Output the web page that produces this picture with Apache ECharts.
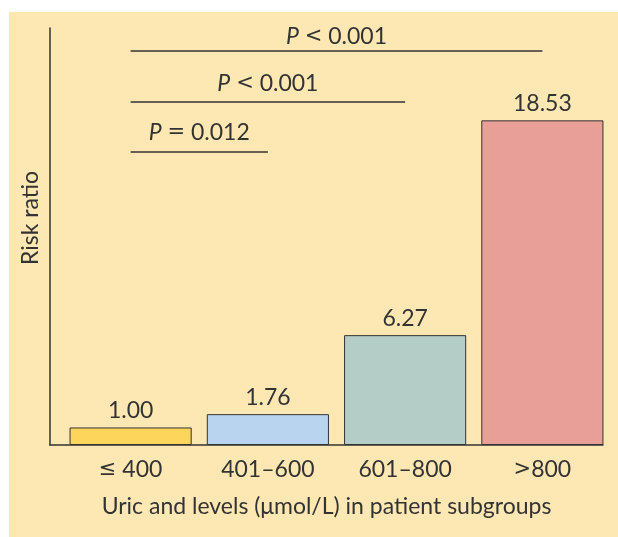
<!DOCTYPE html>
<html>
<head>
<meta charset="utf-8">
<script src="https://cdn.jsdelivr.net/npm/echarts@6/dist/echarts.min.js"></script>
<style>
html,body{margin:0;padding:0;background:#ffffff;}
#bg{position:absolute;left:9px;top:12px;width:609px;height:525px;background:#fde8b4;}
#chart{position:absolute;left:0;top:0;width:618px;height:537px;}
</style>
</head>
<body>
<div id="bg"></div>
<div id="chart"></div>
<script>
// ---- data ----
const categories = ['≤ 400', '401–600', '601–800', '>800'];
const riskRatios = [1.00, 1.76, 6.27, 18.53];
const barColors = ['#fdd55a', '#b9d4ee', '#b5cdc7', '#e89f98'];
const pLabels = ['P < 0.001', 'P < 0.001', 'P = 0.012'];
const bracketFrom = ['≤ 400', '≤ 400', '≤ 400'];
const bracketTo = ['>800', '601–800', '401–600'];
const xAxisTitle = 'Uric and levels (μmol/L) in patient subgroups';
const yAxisTitle = 'Risk ratio';

// ---- layout / style ----
const FONT = 'Lato';
const FS = 23;
const TXT = '#333333';
const yMax = 23.8;
const bracketLevels = [22.5, 19.6, 16.75];
const bracketLabelDist = [3, 7, 7];

function pRich(s) {
  const parts = s.split(' ');
  return '{i|' + parts[0] + '} {op|' + parts[1] + '} ' + parts.slice(2).join(' ');
}
function opRich(s) {
  return s.replace(/[≤<>=]/g, m => '{op|' + m + '}');
}
const opStyle = {fontFamily: 'DejaVu Sans', fontSize: FS - 2, color: TXT};

const chart = echarts.init(document.getElementById('chart'), null, {renderer: 'canvas'});
chart.setOption({
  backgroundColor: 'transparent',
  animation: false,
  textStyle: {fontFamily: FONT, color: TXT},
  grid: [
    {left: 62, right: 7, top: 28, bottom: 92},
    {left: 50, right: 15, top: 28, bottom: 92}
  ],
  xAxis: [
    {
      gridIndex: 0, type: 'category', data: categories,
      axisLine: {show: false}, axisTick: {show: false},
      axisLabel: {fontFamily: FONT, fontSize: FS, color: TXT, margin: 13,
                  formatter: opRich, rich: {op: opStyle}}
    },
    {
      gridIndex: 1, type: 'value', min: 0, max: 1,
      axisLine: {show: true, lineStyle: {color: '#333', width: 1.5}},
      axisTick: {show: false}, axisLabel: {show: false}, splitLine: {show: false},
      name: xAxisTitle, nameLocation: 'middle', nameGap: 50,
      nameTextStyle: {fontFamily: FONT, fontSize: FS, color: TXT}
    }
  ],
  yAxis: [
    {gridIndex: 0, type: 'value', min: 0, max: yMax, show: false},
    {
      gridIndex: 1, type: 'value', min: 0, max: 1,
      axisLine: {show: true, onZero: false, lineStyle: {color: '#333', width: 1.5}},
      axisTick: {show: false}, axisLabel: {show: false}, splitLine: {show: false}
    }
  ],
  graphic: [{
    type: 'text',
    x: 31, y: 218,
    rotation: Math.PI / 2,
    style: {text: yAxisTitle, font: FS + 'px ' + FONT, fill: TXT, align: 'center', verticalAlign: 'middle'}
  }],
  series: [{
    type: 'bar',
    xAxisIndex: 0, yAxisIndex: 0,
    barWidth: '89%',
    data: riskRatios.map((v, i) => ({value: v, itemStyle: {color: barColors[i]}})),
    itemStyle: {borderColor: '#333', borderWidth: 1},
    label: {
      show: true, position: 'top', distance: 5,
      fontFamily: FONT, fontSize: FS, color: TXT,
      formatter: p => p.value.toFixed(2)
    },
    markLine: {
      silent: true, symbol: 'none',
      lineStyle: {color: '#333', width: 1.5, type: 'solid'},
      data: pLabels.map((t, i) => [
        {coord: [bracketFrom[i], bracketLevels[i]],
         label: {show: true, position: 'middle', distance: bracketLabelDist[i], formatter: pRich(t),
                 fontFamily: FONT, fontSize: FS, color: TXT,
                 rich: {
                   i: {fontStyle: 'italic', fontFamily: FONT, fontSize: FS, color: TXT},
                   op: opStyle
                 }}},
        {coord: [bracketTo[i], bracketLevels[i]]}
      ])
    }
  }]
});
</script>
</body>
</html>
